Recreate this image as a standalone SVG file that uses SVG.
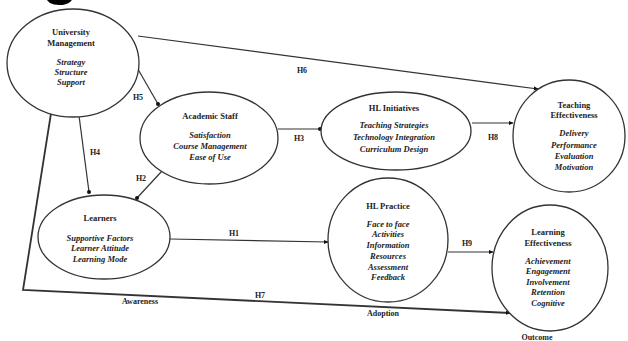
<svg xmlns="http://www.w3.org/2000/svg" width="628" height="341" viewBox="0 0 628 341">
<defs>
<marker id="arr" viewBox="0 0 8 8" refX="7" refY="4" markerWidth="5" markerHeight="5" orient="auto" markerUnits="userSpaceOnUse"><path d="M0,0.5 L8,4 L0,7.5 Z" fill="#111"/></marker>
<marker id="dot" viewBox="0 0 6 6" refX="3" refY="3" markerWidth="4" markerHeight="4" markerUnits="userSpaceOnUse"><circle cx="3" cy="3" r="3" fill="#111"/></marker>
<style>
.n ellipse{fill:#fff;stroke:#333;stroke-width:1.3}
.t{font-family:"Liberation Serif","Times New Roman",serif;font-size:8.5px;font-weight:bold;fill:#222;text-anchor:middle}
.i{font-style:italic}
.c line,.c polyline{stroke:#333;stroke-width:1.2;fill:none}
.l{font-family:"Liberation Serif","Times New Roman",serif;font-size:8px;font-weight:bold;fill:#222;text-anchor:middle}
</style>
</defs>
<rect width="628" height="341" fill="#fff"/>
<text x="60" y="-7" font-family="Liberation Sans,Arial,sans-serif" font-size="60" font-weight="bold" fill="#000" text-anchor="middle">g</text>
<g class="c" id="connectors">
<line x1="138" y1="36" x2="538" y2="89" marker-end="url(#arr)"/>
<line x1="135" y1="64" x2="158" y2="104" marker-end="url(#dot)"/>
<line x1="78" y1="108" x2="89" y2="192" marker-end="url(#dot)"/>
<line x1="162" y1="171" x2="137" y2="198" marker-end="url(#dot)"/>
<line x1="278" y1="129" x2="320" y2="129" marker-end="url(#dot)"/>
<line x1="472" y1="123" x2="513" y2="123" marker-end="url(#arr)"/>
<line x1="170" y1="239" x2="328" y2="242" marker-end="url(#arr)"/>
<line x1="448" y1="252" x2="493" y2="252" marker-end="url(#arr)"/>
<polyline points="52,107 23,290 510,313" style="stroke-width:1.8" marker-end="url(#arr)"/>
<text class="l" x="302" y="73">H6</text>
<text class="l" x="138" y="100">H5</text>
<text class="l" x="95" y="155">H4</text>
<text class="l" x="141" y="181">H2</text>
<text class="l" x="299" y="141">H3</text>
<text class="l" x="493" y="140">H8</text>
<text class="l" x="234" y="236">H1</text>
<text class="l" x="467" y="246">H9</text>
<text class="l" x="260" y="298">H7</text>
<text class="l" x="140" y="304">Awareness</text>
<text class="l" x="383" y="316">Adoption</text>
<text class="l" x="537" y="340">Outcome</text>
</g>
<g class="n" id="um">
<ellipse cx="73" cy="63" rx="66" ry="54"/>
<text class="t" x="71" y="35">University</text>
<text class="t" x="71" y="46">Management</text>
<text class="t i" x="71" y="65">Strategy</text>
<text class="t i" x="71" y="75">Structure</text>
<text class="t i" x="71" y="85">Support</text>
</g>
<g class="n" id="as">
<ellipse cx="209" cy="138" rx="69" ry="46"/>
<text class="t" x="210" y="119">Academic Staff</text>
<text class="t i" x="210" y="138">Satisfaction</text>
<text class="t i" x="210" y="149">Course Management</text>
<text class="t i" x="210" y="160">Ease of Use</text>
</g>
<g class="n" id="hli">
<ellipse cx="396" cy="131" rx="75" ry="39"/>
<text class="t" x="394" y="111">HL Initiatives</text>
<text class="t i" x="394" y="128">Teaching Strategies</text>
<text class="t i" x="394" y="140">Technology Integration</text>
<text class="t i" x="394" y="152">Curriculum Design</text>
</g>
<g class="n" id="te">
<ellipse cx="569" cy="136" rx="56" ry="56"/>
<text class="t" x="574" y="108">Teaching</text>
<text class="t" x="574" y="118">Effectiveness</text>
<text class="t i" x="574" y="136">Delivery</text>
<text class="t i" x="574" y="148">Performance</text>
<text class="t i" x="574" y="159">Evaluation</text>
<text class="t i" x="574" y="170">Motivation</text>
</g>
<g class="n" id="lr">
<ellipse cx="104" cy="237" rx="66" ry="42"/>
<text class="t" x="100" y="221">Learners</text>
<text class="t i" x="100" y="241">Supportive Factors</text>
<text class="t i" x="100" y="251">Learner Attitude</text>
<text class="t i" x="100" y="262">Learning Mode</text>
</g>
<g class="n" id="hlp">
<ellipse cx="388" cy="240" rx="60" ry="62"/>
<text class="t" x="388" y="209">HL Practice</text>
<text class="t i" x="388" y="227">Face to face</text>
<text class="t i" x="388" y="237">Activities</text>
<text class="t i" x="388" y="248">Information</text>
<text class="t i" x="388" y="259">Resources</text>
<text class="t i" x="388" y="270">Assessment</text>
<text class="t i" x="388" y="280">Feedback</text>
</g>
<g class="n" id="le">
<ellipse cx="550" cy="268" rx="58" ry="63"/>
<text class="t" x="548" y="235">Learning</text>
<text class="t" x="548" y="246">Effectiveness</text>
<text class="t i" x="548" y="264">Achievement</text>
<text class="t i" x="548" y="274">Engagement</text>
<text class="t i" x="548" y="285">Involvement</text>
<text class="t i" x="548" y="295">Retention</text>
<text class="t i" x="548" y="306">Cognitive</text>
</g>
</svg>
